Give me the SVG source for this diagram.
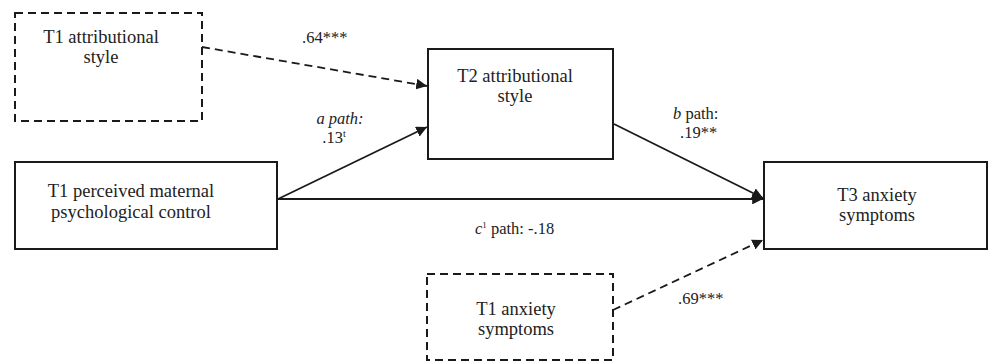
<svg xmlns="http://www.w3.org/2000/svg" width="988" height="362" viewBox="0 0 988 362">
<style>
.box{fill:#fff;stroke:#1a1a1a;stroke-width:2}
.dash{stroke-dasharray:8 5}
.t{font-family:"Liberation Serif","Times New Roman",serif;font-size:18.5px;fill:#222;text-anchor:middle}
.l{font-family:"Liberation Serif","Times New Roman",serif;font-size:16.5px;fill:#222}
.c{fill:none;stroke:#1a1a1a;stroke-width:1.8}
</style>
<defs>
<marker id="ah" viewBox="0 0 10 10" refX="10" refY="5" markerWidth="6" markerHeight="6" orient="auto" markerUnits="strokeWidth">
<path d="M0,0 L10,5 L0,10 z" fill="#1a1a1a"/>
</marker>
</defs>
<rect width="988" height="362" fill="#fff"/>
<g id="connectors">
<line class="c dash" x1="202" y1="47" x2="427" y2="86" marker-end="url(#ah)"/>
<line class="c" x1="278" y1="199" x2="427" y2="127" marker-end="url(#ah)"/>
<line class="c" x1="614" y1="124" x2="763" y2="198" marker-end="url(#ah)"/>
<line class="c" x1="278" y1="199" x2="763" y2="199" marker-end="url(#ah)"/>
<line class="c dash" x1="613" y1="310" x2="763" y2="240" marker-end="url(#ah)"/>
<text class="l" x="302" y="43">.64***</text>
<text class="l" x="340" y="124" text-anchor="middle" font-style="italic">a path:</text>
<text class="l" x="334" y="143" text-anchor="middle">.13<tspan font-size="10" dy="-6">t</tspan></text>
<text class="l" x="673" y="119"><tspan font-style="italic">b</tspan> path:</text>
<text class="l" x="680" y="138">.19**</text>
<text class="l" x="475" y="234"><tspan font-style="italic">c</tspan><tspan font-size="9" dy="-6">1</tspan><tspan dy="6"> path: -.18</tspan></text>
<text class="l" x="678" y="304">.69***</text>
</g>
<g id="t1-attr">
<rect class="box dash" x="15" y="13" width="187" height="108"/>
<text class="t" x="101" y="43">T1 attributional</text>
<text class="t" x="101" y="63">style</text>
</g>
<g id="t2-attr">
<rect class="box" x="428" y="49" width="185" height="110"/>
<text class="t" x="515" y="82">T2 attributional</text>
<text class="t" x="515" y="102">style</text>
</g>
<g id="t1-control">
<rect class="box" x="15" y="162" width="262" height="87"/>
<text class="t" x="131" y="197">T1 perceived maternal</text>
<text class="t" x="131" y="218">psychological control</text>
</g>
<g id="t3-anx">
<rect class="box" x="764" y="162" width="223" height="87"/>
<text class="t" x="877" y="201">T3 anxiety</text>
<text class="t" x="877" y="221">symptoms</text>
</g>
<g id="t1-anx">
<rect class="box dash" x="427" y="274" width="186" height="86"/>
<text class="t" x="516" y="315">T1 anxiety</text>
<text class="t" x="516" y="335">symptoms</text>
</g>
</svg>
